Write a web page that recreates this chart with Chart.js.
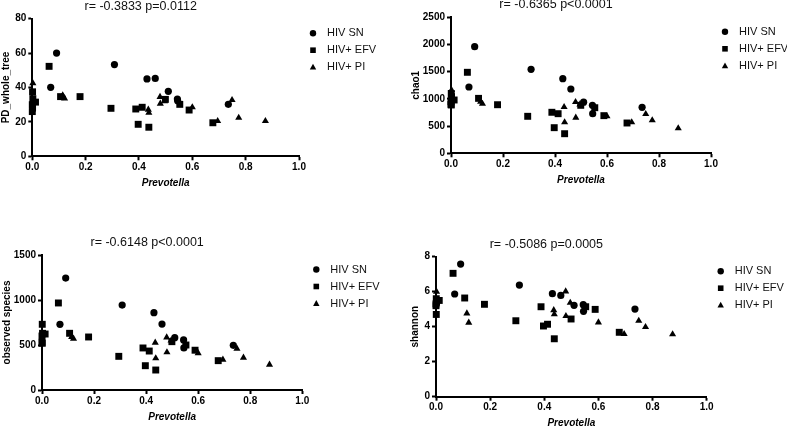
<!DOCTYPE html>
<html>
<head>
<meta charset="utf-8">
<script src="https://cdn.jsdelivr.net/npm/chart.js@4.4.1/dist/chart.umd.min.js"></script>
<style>
  html, body { margin: 0; padding: 0; background: #fff; }
  #wrap { position: relative; width: 787px; height: 428px; overflow: hidden; }
  #wrap canvas { position: absolute; left: 0; top: 0; }
</style>
</head>
<body>
<div id="wrap">
  <canvas id="c1" width="787" height="428"></canvas>
  <canvas id="c2" width="787" height="428"></canvas>
  <canvas id="c3" width="787" height="428"></canvas>
  <canvas id="c4" width="787" height="428"></canvas>
</div>
<script>
// Prevotella relative abundance (x) per group
const prevotellaSN = [0.091, 0.069, 0.308, 0.430, 0.461, 0.510, 0.544, 0.545, 0.735];
const prevotellaEFV = [0.001, 0.012, 0.002, 0.000, 0.001, 0.000, 0.063, 0.106, 0.179, 0.295, 0.388, 0.397, 0.412, 0.437, 0.499, 0.553, 0.588, 0.677];
const prevotellaPI = [0.002, 0.114, 0.121, 0.435, 0.437, 0.479, 0.480, 0.496, 0.600, 0.695, 0.749, 0.774, 0.874];

// PD_whole_tree
const pdSN = [60, 40.1, 53.3, 45, 45.3, 37.8, 33.3, 32.3, 30.2];
const pdEFV = [37.5, 31.5, 33.5, 30, 28, 26, 52.3, 34.7, 34.7, 27.9, 27.5, 18.6, 28.5, 16.9, 33.1, 30.2, 26.9, 19.5];
const pdPI = [42.5, 35.5, 33.7, 27.1, 25.3, 34.5, 30.6, 32, 28.5, 20.5, 32.7, 22.4, 20.5];

// chao1
const chao1SN = [1960, 1219, 1544, 1371, 1182, 940, 882, 728, 845];
const chao1EFV = [1100, 980, 1040, 949, 888, 900, 1489, 1010, 893, 680, 754, 471, 728, 360, 882, 838, 692, 557];
const chao1PI = [1163, 950, 910, 851, 570, 943, 654, 900, 680, 570, 722, 607, 460];

// observed species
const observedSN = [1244, 730, 944, 859, 733, 581, 556, 467, 496];
const observedEFV = [730, 622, 630, 600, 519, 530, 967, 630, 589, 374, 467, 270, 433, 222, 537, 500, 442, 326];
const observedPI = [610, 590, 570, 526, 352, 585, 419, 550, 409, 337, 459, 359, 281];

// shannon
const shannonSN = [7.58, 5.87, 6.38, 5.89, 5.79, 5.22, 5.26, 4.88, 5.01];
const shannonEFV = [5.6, 5.5, 5.4, 5.2, 4.7, 5.3, 7.05, 5.64, 5.28, 4.34, 5.14, 4.04, 4.14, 3.31, 4.44, 5.14, 4.99, 3.68];
const shannonPI = [6.0, 4.76, 4.23, 4.95, 4.71, 6.02, 4.61, 5.37, 4.25, 3.58, 4.34, 3.98, 3.57];

const groupLabels = ['HIV SN', 'HIV+ EFV', 'HIV+ PI'];

const FONT = '"Liberation Sans", Arial, Helvetica, sans-serif';
Chart.defaults.font.family = FONT;
Chart.defaults.color = '#000';

const W = 787, H = 428;

function drawMarker(ctx, style, x, y) {
  ctx.beginPath();
  if (style === 'circle') {
    ctx.arc(x, y, 3.2, 0, Math.PI * 2);
  } else if (style === 'rect') {
    ctx.rect(x - 2.8, y - 2.8, 5.6, 5.6);
  } else {
    ctx.moveTo(x, y - 3.4);
    ctx.lineTo(x + 3.2, y + 2.4);
    ctx.lineTo(x - 3.2, y + 2.4);
    ctx.closePath();
  }
  ctx.fill();
}

// title above the plot and legend to the right
const panelDecor = {
  id: 'panelDecor',
  afterDraw(chart, args, opts) {
    const { ctx, chartArea: a } = chart;
    ctx.save();
    ctx.fillStyle = '#111';
    ctx.textBaseline = 'middle';
    ctx.textAlign = 'center';
    ctx.font = '12.5px ' + FONT;
    ctx.fillText(opts.title, (a.left + a.right) / 2 - 25, a.top - 12.5);

    ctx.textAlign = 'left';
    ctx.font = '11px ' + FONT;
    chart.data.datasets.forEach((ds, i) => {
      const y = a.top + 14.5 + i * 17;
      ctx.fillStyle = '#000';
      drawMarker(ctx, ds.pointStyle, a.right + 14, y);
      ctx.fillStyle = '#111';
      ctx.fillText(ds.label, a.right + 28, y);
    });
    ctx.restore();
  }
};

const panels = [
  { id: 'c1', title: 'r= -0.3833 p=0.0112', yLabel: 'PD_whole_tree', yMax: 80, yStep: 20,
    values: [pdSN, pdEFV, pdPI], box: { left: 32.3, right: 299, top: 18.7, bottom: 156.3, titleX: 6 } },
  { id: 'c2', title: 'r= -0.6365 p<0.0001', yLabel: 'chao1', yMax: 2500, yStep: 500,
    values: [chao1SN, chao1EFV, chao1PI], box: { left: 451, right: 711, top: 17.3, bottom: 153.3, titleX: 416 } },
  { id: 'c3', title: 'r= -0.6148 p<0.0001', yLabel: 'observed species', yMax: 1500, yStep: 500,
    values: [observedSN, observedEFV, observedPI], box: { left: 42, right: 302.3, top: 255, bottom: 390, titleX: 7 } },
  { id: 'c4', title: 'r= -0.5086 p=0.0005', yLabel: 'shannon', yMax: 8, yStep: 2,
    values: [shannonSN, shannonEFV, shannonPI], box: { left: 436, right: 706.7, top: 256.7, bottom: 396.7, titleX: 415.5 } }
];

const xs = [prevotellaSN, prevotellaEFV, prevotellaPI];
const styles = [
  { pointStyle: 'circle', radius: 3.6 },
  { pointStyle: 'rect', radius: 4.9 },
  { pointStyle: 'triangle', radius: 4.1 }
];

const tickFont = { size: 10, weight: 'bold' };
const axisGrid = { drawOnChartArea: false, drawTicks: true, tickLength: 4, tickWidth: 2, tickColor: '#000' };
const axisBorder = { display: true, color: '#000', width: 2 };

panels.forEach(p => {
  const b = p.box;
  const datasets = p.values.map((vals, g) => ({
    label: groupLabels[g],
    data: vals.map((v, i) => ({ x: xs[g][i], y: v })),
    pointStyle: styles[g].pointStyle,
    pointRadius: styles[g].radius,
    pointHoverRadius: styles[g].radius,
    backgroundColor: '#000',
    borderColor: '#000',
    borderWidth: 0,
    clip: false
  }));

  new Chart(document.getElementById(p.id), {
    type: 'scatter',
    data: { datasets },
    plugins: [panelDecor],
    options: {
      responsive: false,
      animation: false,
      layout: {
        padding: { left: b.titleX - 6, top: b.top, right: W - b.right, bottom: H - b.bottom - 33 }
      },
      plugins: {
        legend: { display: false },
        tooltip: { enabled: false },
        panelDecor: { title: p.title }
      },
      scales: {
        x: {
          type: 'linear', min: 0, max: 1,
          afterFit(s) { s.height = 33; },
          ticks: { stepSize: 0.2, font: tickFont, color: '#000', padding: 1, maxRotation: 0,
                   callback: v => Number(v).toFixed(1) },
          grid: axisGrid,
          border: axisBorder,
          title: { display: true, text: 'Prevotella', color: '#000', padding: 0,
                   font: { size: 10, weight: 'bold', style: 'italic', lineHeight: 1.2 } }
        },
        y: {
          type: 'linear', min: 0, max: p.yMax,
          afterFit(s) { s.width = b.left - b.titleX + 6; },
          ticks: { stepSize: p.yStep, font: tickFont, color: '#000', padding: 2,
                   callback: v => String(v) },
          grid: axisGrid,
          border: axisBorder,
          title: { display: true, text: p.yLabel, color: '#000', padding: 0,
                   font: { size: 10, weight: 'bold', lineHeight: 1.2 } }
        }
      }
    }
  });
});
</script>
</body>
</html>
